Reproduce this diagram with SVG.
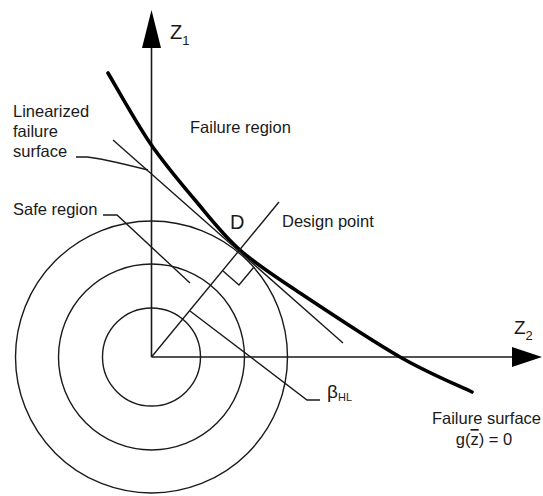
<svg xmlns="http://www.w3.org/2000/svg" width="543" height="496" viewBox="0 0 543 496">
<style>
.ln{fill:none;stroke:#1a1a1a;stroke-width:1.4}
.ax{fill:none;stroke:#1a1a1a;stroke-width:1.6}
.lbl{font-family:"Liberation Sans",Arial,sans-serif;font-size:16.5px;fill:#1a1a1a}
.big{font-family:"Liberation Sans",Arial,sans-serif;fill:#1a1a1a}
</style>
<rect width="543" height="496" fill="#ffffff"/>
<g id="axes">
<line class="ax" x1="151.5" y1="45" x2="151.5" y2="357"/>
<polygon points="151.5,10 142,48 161,48" fill="#000"/>
<line class="ax" x1="151.5" y1="357" x2="515" y2="357"/>
<polygon points="542,357 512,347 512,367" fill="#000"/>
<text class="big" x="170" y="39" font-size="20">Z<tspan font-size="13" dy="6">1</tspan></text>
<text class="big" x="514" y="334" font-size="19">Z<tspan font-size="13" dy="6">2</tspan></text>
</g>
<g id="safe-region-circles">
<circle class="ln" cx="151.5" cy="357" r="49"/>
<circle class="ln" cx="151.5" cy="357" r="93"/>
<circle class="ln" cx="151.5" cy="357" r="136"/>
</g>
<g id="failure-surface">
<path d="M108,73 C115,84.7 135.5,121.8 150,143 C164.5,164.2 180,182.2 195,200 C210,217.8 222.5,234.5 240,250 C257.5,265.5 273.3,275.2 300,293 C326.7,310.8 371.3,340.5 400,357 C428.7,373.5 460,386.2 472,392" fill="none" stroke="#000" stroke-width="3.6" stroke-linecap="round"/>
</g>
<g id="linearized-surface">
<line class="ln" x1="113" y1="140" x2="343" y2="343"/>
</g>
<g id="beta-line">
<line class="ln" x1="151.5" y1="357" x2="279" y2="202"/>
<polyline class="ln" points="223,271 239,285 254,267"/>
</g>
<g id="connectors">
<path class="ln" d="M76,157 L87,157 Q100,158 148,170"/>
<path class="ln" d="M103,215 L117,215 L190,283"/>
<path class="ln" d="M190,311 L307,400 L320,400"/>
</g>
<g id="label-linearized">
<text class="lbl" x="13" y="117">Linearized</text>
<text class="lbl" x="13" y="137">failure</text>
<text class="lbl" x="13" y="157">surface</text>
</g>
<g id="label-failure-region">
<text class="lbl" x="190" y="133">Failure region</text>
</g>
<g id="label-safe-region">
<text class="lbl" x="13" y="215">Safe region</text>
</g>
<g id="label-design-point">
<text class="big" x="230" y="229" font-size="20">D</text>
<text class="lbl" x="282" y="227">Design point</text>
</g>
<g id="label-beta">
<text class="big" x="327" y="398" font-size="19">β<tspan font-size="11" dy="3">HL</tspan></text>
</g>
<g id="label-failure-surface">
<text class="lbl" x="486.5" y="424" text-anchor="middle">Failure surface</text>
<text class="lbl" x="484" y="445" text-anchor="middle" font-size="16">g(<tspan text-decoration="overline" style="text-decoration:overline">z</tspan>) = 0</text>
</g>
</svg>
